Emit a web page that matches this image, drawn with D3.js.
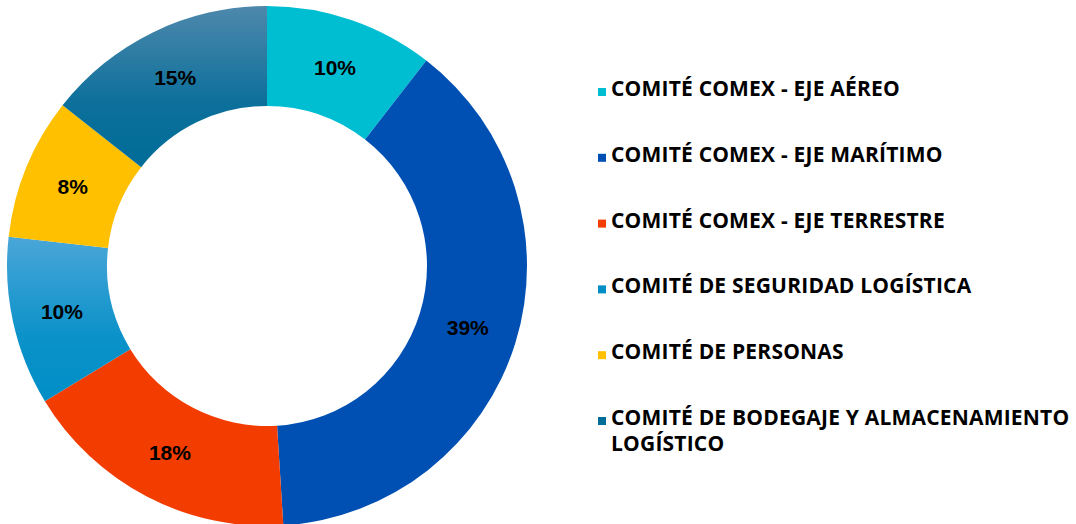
<!DOCTYPE html>
<html>
<head>
<meta charset="utf-8">
<script src="https://cdn.jsdelivr.net/npm/d3@7"></script>
<style>
  html, body { margin: 0; padding: 0; background: #ffffff; }
  svg { display: block; }
</style>
</head>
<body>
<div id="chart"></div>
<script>
const categories = [
  "COMITÉ COMEX - EJE AÉREO",
  "COMITÉ COMEX - EJE MARÍTIMO",
  "COMITÉ COMEX - EJE TERRESTRE",
  "COMITÉ DE SEGURIDAD LOGÍSTICA",
  "COMITÉ DE PERSONAS",
  "COMITÉ DE BODEGAJE Y ALMACENAMIENTO LOGÍSTICO"
];
const legendLines = [
  ["COMITÉ COMEX - EJE AÉREO"],
  ["COMITÉ COMEX - EJE MARÍTIMO"],
  ["COMITÉ COMEX - EJE TERRESTRE"],
  ["COMITÉ DE SEGURIDAD LOGÍSTICA"],
  ["COMITÉ DE PERSONAS"],
  ["COMITÉ DE BODEGAJE Y ALMACENAMIENTO", "LOGÍSTICO"]
];
// slice shares
const values = [10.5, 38.5, 17.3, 10.5, 8.8, 14.4];
// printed data labels
const labels = ["10%", "39%", "18%", "10%", "8%", "15%"];
const colorsTop = ["#00bed2", "#0050b4", "#f23c00", "#4aa6d8", "#ffc000", "#4e88ac"];
const colorsBottom = ["#00bed2", "#0050b4", "#f23c00", "#008ec6", "#ffc000", "#006c98"];

const W = 1076, H = 524;
const cx = 267, cy = 266, rOuter = 260, rInner = 160;

const svg = d3.select("#chart").append("svg")
  .attr("width", W).attr("height", H);

const defs = svg.append("defs");
categories.forEach((c, i) => {
  const g = defs.append("linearGradient")
    .attr("id", "grad" + i)
    .attr("x1", 0).attr("y1", 0).attr("x2", 0).attr("y2", 1);
  g.append("stop").attr("offset", "0%").attr("stop-color", colorsTop[i]);
  g.append("stop").attr("offset", "60%").attr("stop-color", d3.interpolateRgb(colorsTop[i], colorsBottom[i])(0.85));
  g.append("stop").attr("offset", "100%").attr("stop-color", colorsBottom[i]);
});

const pie = d3.pie().value(d => d).sort(null);
const arc = d3.arc().innerRadius(rInner).outerRadius(rOuter);
const arcs = pie(values);

const g = svg.append("g").attr("transform", `translate(${cx},${cy})`);

g.selectAll("path.slice")
  .data(arcs)
  .enter().append("path")
  .attr("class", "slice")
  .attr("d", arc)
  .attr("fill", (d, i) => colorsTop[i] === colorsBottom[i] ? colorsTop[i] : `url(#grad${i})`);

g.selectAll("text.lbl")
  .data(arcs)
  .enter().append("text")
  .attr("class", "lbl")
  .attr("transform", d => `translate(${arc.centroid(d)})`)
  .attr("text-anchor", "middle")
  .attr("dy", "0.36em")
  .attr("font-family", "'Liberation Sans', Arial, sans-serif")
  .attr("font-weight", "bold")
  .attr("font-size", "21px")
  .attr("fill", "#000")
  .text((d, i) => labels[i]);

// Legend
const legendX = 598, legendTextX = 611, legendY0 = 96, legendStep = 65.8, lineH = 26;
const leg = svg.append("g");
legendLines.forEach((lines, i) => {
  const by = legendY0 + i * legendStep;
  leg.append("rect")
    .attr("x", legendX).attr("y", by - 8)
    .attr("width", 8).attr("height", 8)
    .attr("fill", colorsBottom[i]);
  const t = leg.append("text")
    .attr("x", legendTextX).attr("y", by)
    .attr("font-family", "'Open Sans', sans-serif")
    .attr("font-weight", "bold")
    .attr("font-size", "21px")
    .attr("letter-spacing", "0.2px")
    .attr("fill", "#000");
  lines.forEach((ln, j) => {
    t.append("tspan").attr("x", legendTextX).attr("y", by + j * lineH).text(ln);
  });
});
</script>
</body>
</html>
